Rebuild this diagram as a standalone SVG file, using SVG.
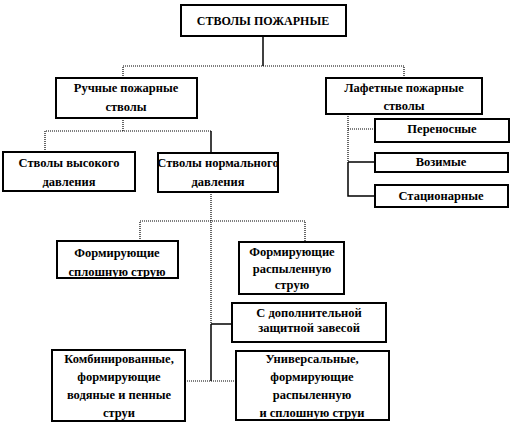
<svg xmlns="http://www.w3.org/2000/svg" width="512" height="424" viewBox="0 0 512 424">
<style>
.box{fill:#fff;stroke:#000;stroke-width:2}
.t{font-family:'Liberation Serif','DejaVu Serif',serif;font-weight:bold;font-size:12.5px;text-anchor:middle;fill:#000}
.ln{fill:none;stroke:#000;stroke-width:1.5}
.dt{fill:none;stroke:#000;stroke-width:1.2;stroke-dasharray:1 1}
</style>
<rect width="512" height="424" fill="#fff"/>
<g id="connectors">
<line class="ln" x1="263" y1="36" x2="263" y2="66"/>
<polyline class="dt" points="123,78 123,66 404,66 404,78"/>
<polyline class="dt" points="123,118 123,131"/>
<polyline class="dt" points="45,152 45,131 211,131"/>
<line class="ln" x1="211" y1="131" x2="211" y2="152"/>
<polyline class="dt" points="348,114 348,162"/>
<polyline class="ln" points="348,162 348,196 375,196"/>
<line class="dt" x1="348" y1="129" x2="375" y2="129"/>
<line class="ln" x1="348" y1="162" x2="375" y2="162"/>
<polyline class="dt" points="211,192 211,324"/>
<polyline class="dt" points="140,241 140,221 305,221 305,242"/>
<line class="ln" x1="211" y1="324" x2="211" y2="381"/>
<line class="ln" x1="211" y1="324" x2="232" y2="324"/>
<line class="dt" x1="185" y1="381" x2="236" y2="381"/>
</g>
<g id="n-root"><rect class="box" x="181" y="5" width="165" height="31"/><text class="t" x="263" y="25" style="font-size:12px">СТВОЛЫ  ПОЖАРНЫЕ</text></g>
<g id="n-manual"><rect class="box" x="56" y="78" width="141" height="40"/><text class="t" x="126" y="92">Ручные пожарные</text><text class="t" x="126" y="111">стволы</text></g>
<g id="n-monitor"><rect class="box" x="326" y="78" width="156" height="36"/><text class="t" x="404" y="92">Лафетные пожарные</text><text class="t" x="404" y="110">стволы</text></g>
<g id="n-portable"><rect class="box" x="375" y="119" width="134" height="23"/><text class="t" x="442" y="133">Переносные</text></g>
<g id="n-mobile"><rect class="box" x="375" y="153" width="133" height="19"/><text class="t" x="441" y="166">Возимые</text></g>
<g id="n-stationary"><rect class="box" x="375" y="185" width="133" height="22"/><text class="t" x="441" y="200">Стационарные</text></g>
<g id="n-high"><rect class="box" x="3" y="152" width="132" height="39"/><text class="t" x="69" y="167">Стволы высокого</text><text class="t" x="69" y="186">давления</text></g>
<g id="n-normal"><rect class="box" x="158" y="153" width="120" height="39"/><text class="t" x="218" y="167">Стволы нормального</text><text class="t" x="218" y="186">давления</text></g>
<g id="n-solid"><rect class="box" x="57" y="241" width="121" height="37"/><text class="t" x="117" y="257">Формирующие</text><text class="t" x="117" y="276">сплошную струю</text></g>
<g id="n-spray"><rect class="box" x="239" y="242" width="105" height="52"/><text class="t" x="292" y="256">Формирующие</text><text class="t" x="292" y="273">распыленную</text><text class="t" x="292" y="289">струю</text></g>
<g id="n-curtain"><rect class="box" x="232" y="303" width="154" height="39"/><text class="t" x="309" y="317">С дополнительной</text><text class="t" x="309" y="332">защитной завесой</text></g>
<g id="n-combined"><rect class="box" x="52" y="350" width="133" height="71"/><text class="t" x="119" y="363">Комбинированные,</text><text class="t" x="119" y="381">формирующие</text><text class="t" x="119" y="399">водяные и пенные</text><text class="t" x="119" y="417">струи</text></g>
<g id="n-universal"><rect class="box" x="236" y="351" width="153" height="69"/><text class="t" x="312" y="363">Универсальные,</text><text class="t" x="312" y="381">формирующие</text><text class="t" x="312" y="399">распыленную</text><text class="t" x="312" y="417">и сплошную струи</text></g>
</svg>
